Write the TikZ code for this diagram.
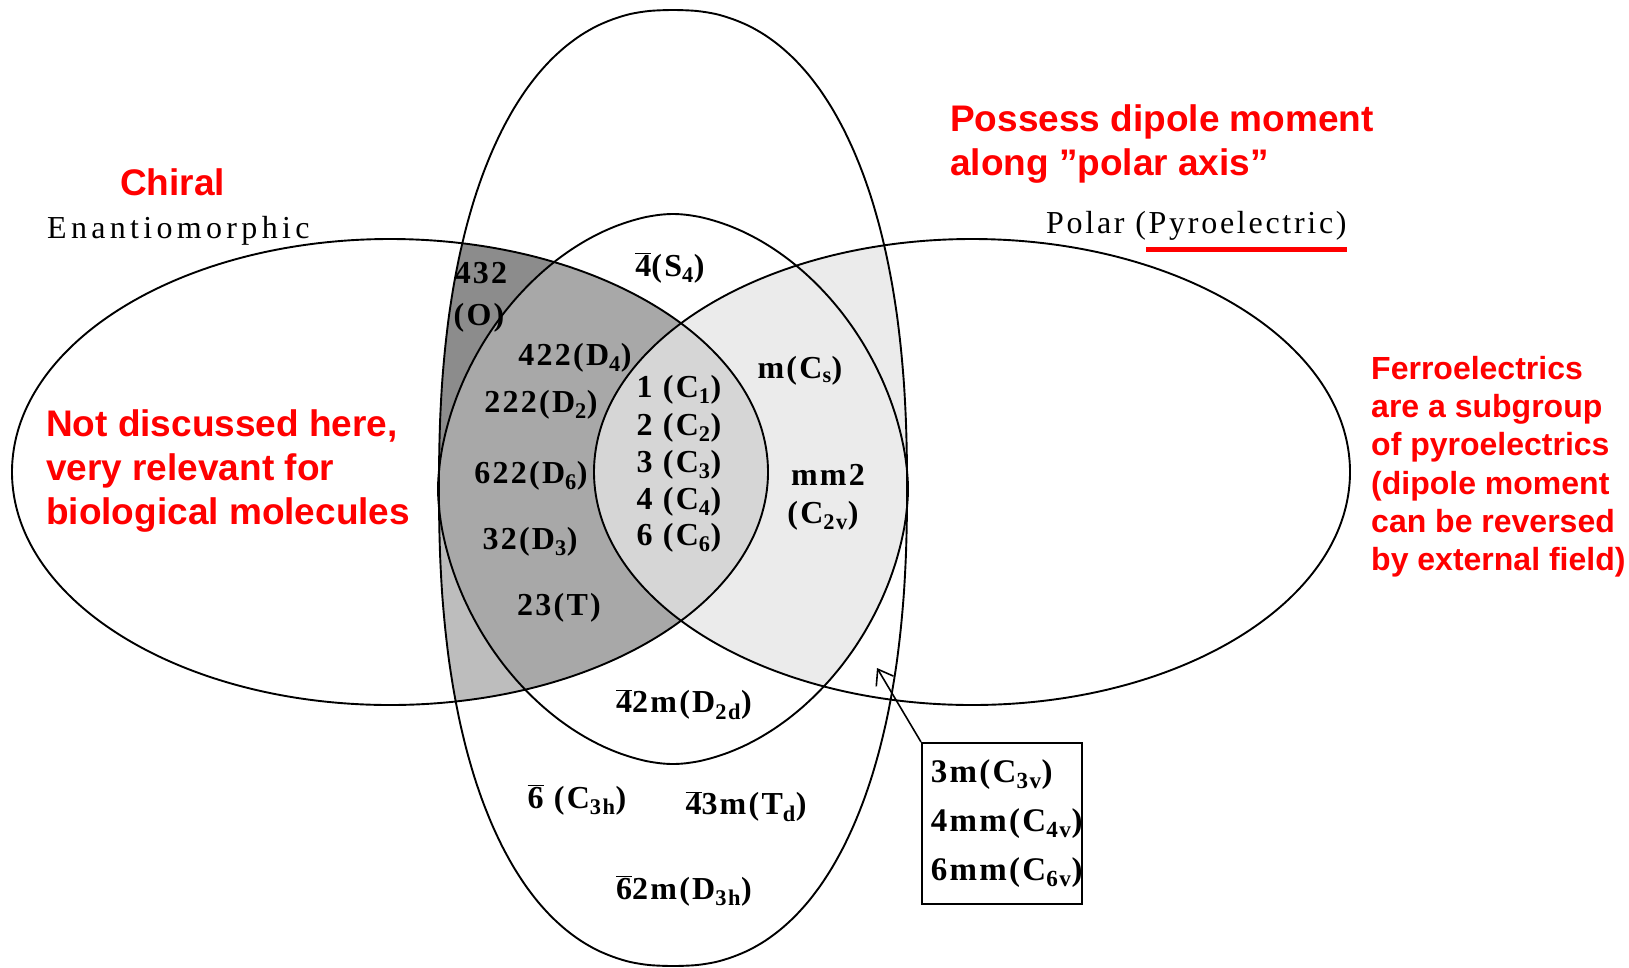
\documentclass[tikz,border=0pt]{standalone}
\usepackage{fontspec}
\setmainfont{Liberation Serif}
\newfontfamily\notefont{Liberation Sans}
\newfontfamily\enantfont[LetterSpace=13.5]{Liberation Serif}
\newfontfamily\polarfont[LetterSpace=8.5]{Liberation Serif}
\newfontfamily\grpfont[LetterSpace=7]{Liberation Serif}
\usetikzlibrary{arrows.meta}

\newcommand{\ovbar}[1]{$\overline{\mbox{#1}}$}

\begin{document}
\begin{tikzpicture}[x=1pt, y=-1pt,
  outline/.style={line width=1.9pt, black},
  ellL/.style={insert path={(390,472) ellipse [x radius=378, y radius=233]}},
  ellR/.style={insert path={(972,472) ellipse [x radius=378, y radius=233]}},
  ovalV/.style={insert path={plot[smooth cycle, samples=90, domain=2:358, variable=\t]
      ({673+234*sign(cos(\t))*abs(cos(\t))^0.87}, {488+478*sign(sin(\t))*abs(sin(\t))^0.87})}},
  ovalM/.style={insert path={plot[smooth cycle, samples=90, domain=2:358, variable=\t]
      ({673+235*sign(cos(\t))*abs(cos(\t))^1.11}, {489+275*sign(sin(\t))*abs(sin(\t))^1.11})}},
  grp/.style={font=\grpfont\bfseries\fontsize{32}{36}\selectfont, inner sep=0pt},
  hdr/.style={font=\fontsize{32}{36}\selectfont, inner sep=0pt, anchor=base west},
  note/.style={font=\notefont\bfseries\fontsize{37}{44}\selectfont, text=red, inner sep=0pt, align=left, anchor=north west},
  smallnote/.style={note, font=\notefont\bfseries\fontsize{32}{38.3}\selectfont},
]
\useasboundingbox (0,0) rectangle (1629,967);
\fill[white] (0,0) rectangle (1629,967);

% shaded regions
\begin{scope}
\clip[ellR]; \clip[ovalV]; \clip (0,0) rectangle (1629,489);
\fill[black!8] (0,0) rectangle (1629,967);
\end{scope}
\begin{scope}
\clip[ellR]; \clip[ovalM];
\fill[black!8] (0,0) rectangle (1629,967);
\end{scope}
\begin{scope}
\clip[ellL]; \clip[ovalV]; \clip (0,0) rectangle (1629,489);
\fill[black!45] (0,0) rectangle (1629,967);
\end{scope}
\begin{scope}
\clip[ellL]; \clip[ovalV]; \clip (0,489) rectangle (1629,967);
\fill[black!26] (0,0) rectangle (1629,967);
\end{scope}
\begin{scope}
\clip[ellL]; \clip[ovalM];
\fill[black!34] (0,0) rectangle (1629,967);
\end{scope}
\begin{scope}
\clip[ellL]; \clip[ellR];
\fill[black!16] (0,0) rectangle (1629,967);
\end{scope}

% outlines
\draw[outline, ellL];
\draw[outline, ellR];
\draw[outline, ovalV];
\draw[outline, ovalM];

% headings
\node[hdr, font=\enantfont\fontsize{32}{36}\selectfont] (enant) at (47,238) {Enantiomorphic};
\node[hdr, font=\polarfont\fontsize{32}{36}\selectfont] (polar) at (1046,233) {Polar (Pyroelectric)};
\coordinate (ulA) at (1146,249);
\coordinate (ulB) at (1347,249);
\draw[red, line width=5pt] (ulA) -- (ulB);

% red notes
\node[note] (chiral) at (120,168) {Chiral};
\node[note] (notdisc) at (46,409) {Not discussed here,\\very relevant for\\biological molecules};
\node[note] (dipole) at (950,104) {Possess dipole moment\\along ”polar axis”};
\node[smallnote] (ferro) at (1371,356) {Ferroelectrics\\are a subgroup\\of pyroelectrics\\(dipole moment\\can be reversed\\by external field)};

% point groups
\node[grp] (g432) at (481,273) {432};
\node[grp] (gO) at (479,318) {(O)};
\node[grp] (gS4) at (670,268) {\ovbar{4}(S\textsubscript{4})};
\node[grp] (gD4) at (575,358) {422(D\textsubscript{4})};
\node[grp] (gD2) at (541,405) {222(D\textsubscript{2})};
\node[grp] (gD6) at (531,476) {622(D\textsubscript{6})};
\node[grp] (gD3) at (530,542) {32(D\textsubscript{3})};
\node[grp] (gT) at (559,608) {23(T)};

\node[grp] (gC1) at (679,390) {1 (C\textsubscript{1})};
\node[grp] (gC2) at (679,428) {2 (C\textsubscript{2})};
\node[grp] (gC3) at (679,465) {3 (C\textsubscript{3})};
\node[grp] (gC4) at (679,502) {4 (C\textsubscript{4})};
\node[grp] (gC6) at (679,538) {6 (C\textsubscript{6})};

\node[grp] (gCs) at (800,371) {m(C\textsubscript{s})};
\node[grp] (gmm2) at (828,475) {mm2};
\node[grp] (gC2v) at (823,516) {(C\textsubscript{2v})};

\node[grp] (gD2d) at (684,705) {\ovbar{4}2m(D\textsubscript{2d})};
\node[grp] (gC3h) at (577,800) {\ovbar{6} (C\textsubscript{3h})};
\node[grp] (gTd) at (746,807) {\ovbar{4}3m(T\textsubscript{d})};
\node[grp] (gD3h) at (684,891) {\ovbar{6}2m(D\textsubscript{3h})};

% box with the polar groups outside the others
\node[grp, draw, line width=1.5pt, anchor=north west, minimum width=160, minimum height=161,
  align=left, inner xsep=9pt, text width=142, font=\grpfont\bfseries\fontsize{33}{49}\selectfont]
  (gbox) at (921,742) {3m(C\textsubscript{3v})\\4mm(C\textsubscript{4v})\\6mm(C\textsubscript{6v})};
\coordinate (tip) at (877,668);
\draw[line width=1.6pt, -{Straight Barb[length=14pt, width=20pt]}] (gbox.north west) -- (tip);
\end{tikzpicture}
\end{document}
